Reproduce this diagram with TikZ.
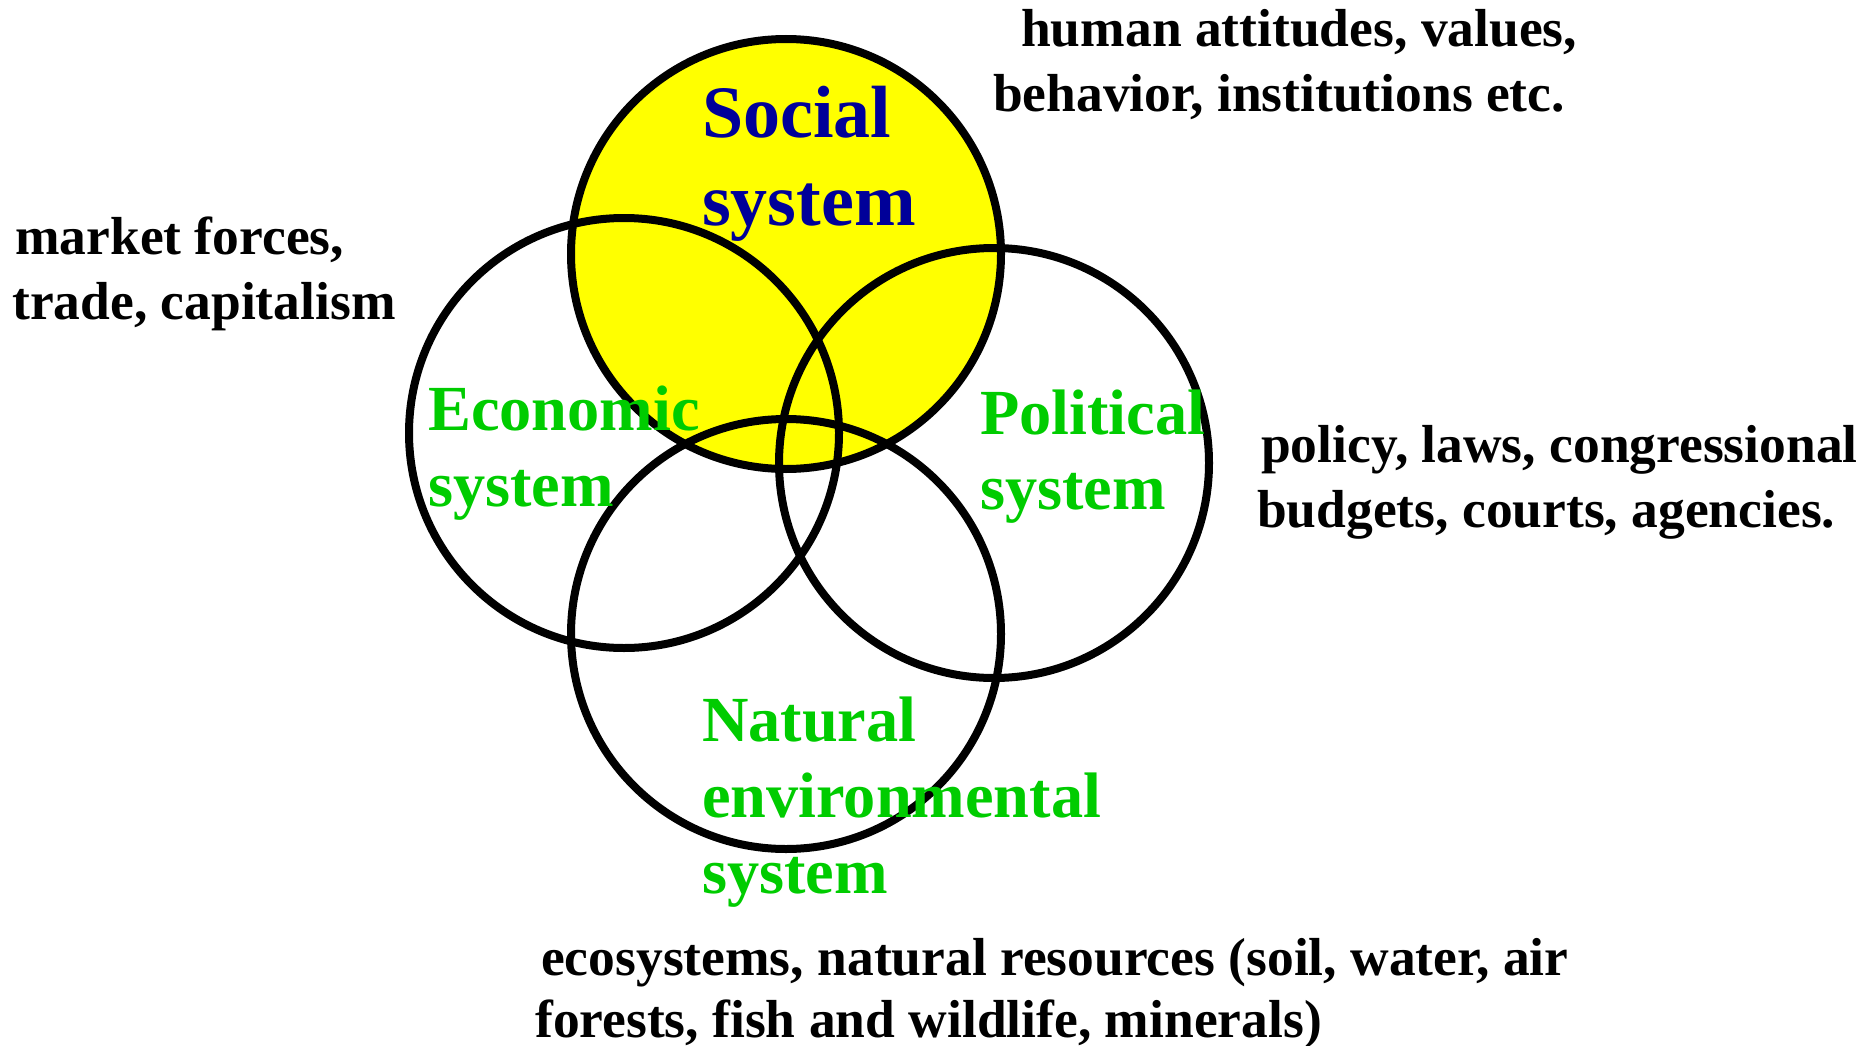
\documentclass[tikz,border=0pt]{standalone}
\usepackage{fontspec}
\setmainfont{Liberation Serif}
\begin{document}
\begin{tikzpicture}[x=1pt, y=-1pt,
  ring/.style={draw=black, line width=8pt},
  note/.style={anchor=base west, inner sep=0pt, text=black,
    font=\bfseries\fontsize{53.5}{65}\selectfont},
  sysname/.style={anchor=base west, inner sep=0pt, text=sysgreen,
    font=\bfseries\fontsize{64.3}{76}\selectfont},
  socname/.style={anchor=base west, inner sep=0pt, text=socblue,
    font=\bfseries\fontsize{74}{88}\selectfont}]
\definecolor{sysgreen}{RGB}{0,204,0}
\definecolor{socblue}{RGB}{0,0,153}
\definecolor{socfill}{RGB}{255,255,0}
\useasboundingbox (0,0) rectangle (1865,1046);
\fill[white] (0,0) rectangle (1865,1046);

% circle centres
\coordinate (cS) at (786,254);
\coordinate (cE) at (624,433);
\coordinate (cP) at (994,463);
\coordinate (cN) at (786,634);

% shaded social sphere, then all outlines on top
\fill[socfill] (cS) circle[radius=215];
\draw[ring] (cS) circle[radius=215];
\draw[ring] (cE) circle[radius=215];
\draw[ring] (cP) circle[radius=215];
\draw[ring] (cN) circle[radius=215];

% system names
\node[socname] (soc1) at (702,137) {Social};
\node[socname] (soc2) at (702,225) {system};
\node[sysname] (eco1) at (428,430) {Economic};
\node[sysname] (eco2) at (428,506) {system};
\node[sysname] (pol1) at (980,434) {Political};
\node[sysname] (pol2) at (980,509) {system};
\node[sysname] (nat1) at (702,741) {Natural};
\node[sysname] (nat2) at (702,817) {environmental};
\node[sysname] (nat3) at (702,893) {system};

% descriptions
\node[note] (hum1) at (1021,47) {human attitudes, values,};
\node[note] (hum2) at (993,112) {behavior, institutions etc.};
\node[note] (mkt1) at (15,254) {market forces,};
\node[note] (mkt2) at (12,319) {trade, capitalism};
\node[note] (pol3) at (1261,462) {policy, laws, congressional};
\node[note] (pol4) at (1257,527) {budgets, courts, agencies.};
\node[note] (env1) at (541,975) {ecosystems, natural resources (soil, water, air};
\node[note] (env2) at (535,1037) {forests, fish and wildlife, minerals)};
\end{tikzpicture}
\end{document}
